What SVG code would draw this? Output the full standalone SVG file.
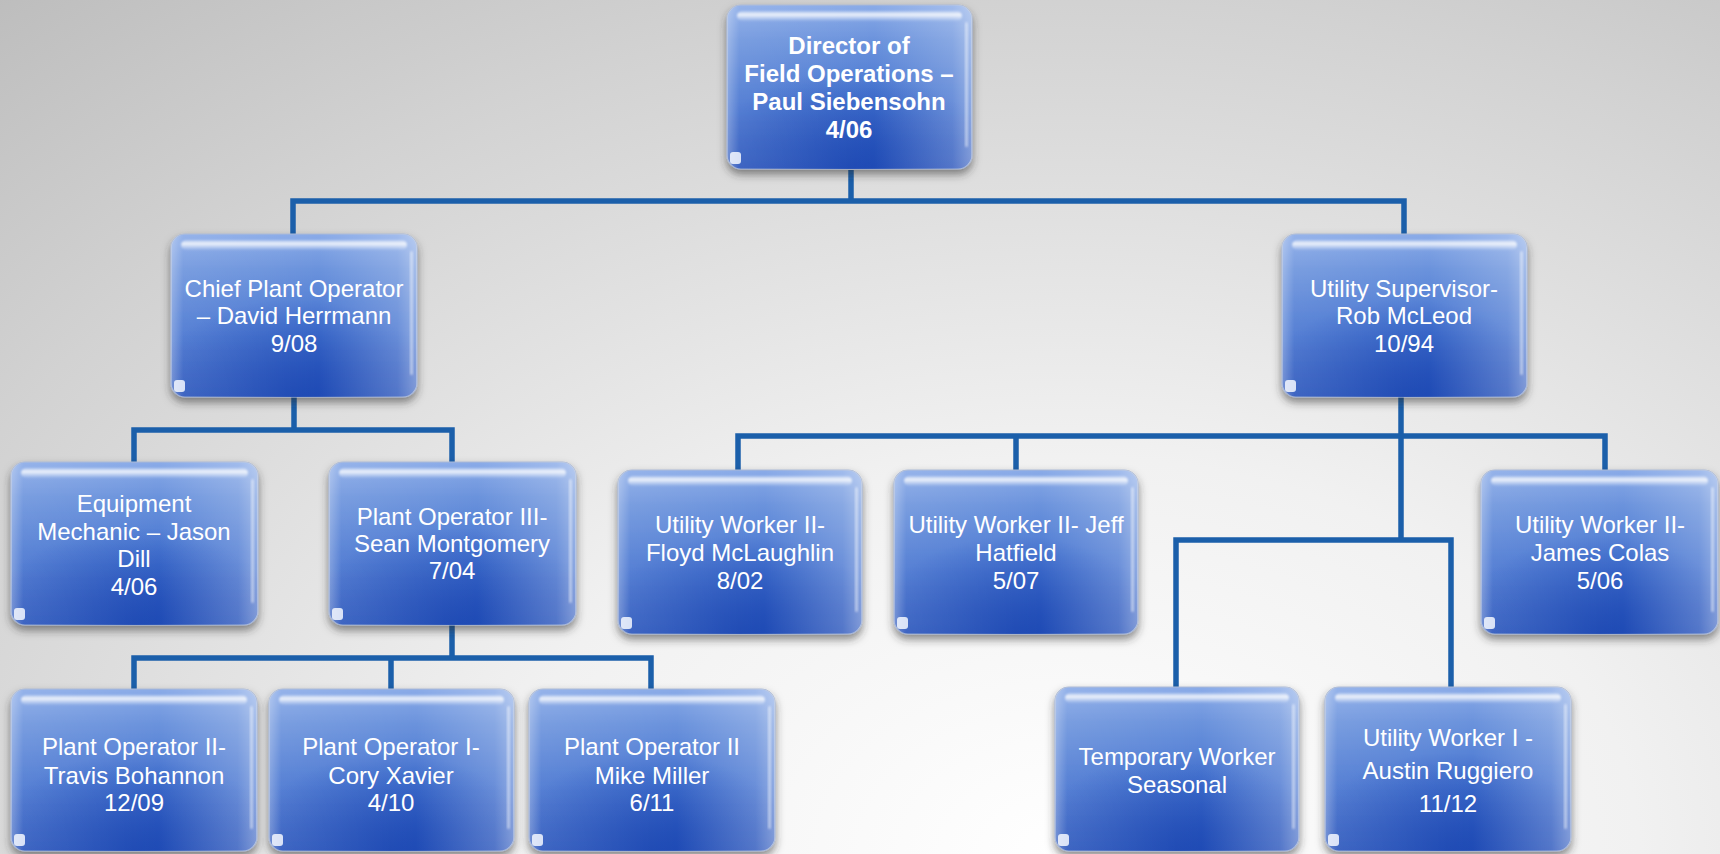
<svg xmlns="http://www.w3.org/2000/svg" width="1720" height="854" viewBox="0 0 1720 854">
<defs>
  <radialGradient id="bg" cx="0.62" cy="1.0" r="0.95" gradientTransform="translate(0.62 1) scale(1 1.4) translate(-0.62 -1)">
    <stop offset="0" stop-color="#ffffff"/>
    <stop offset="0.35" stop-color="#f1f1f1"/>
    <stop offset="0.75" stop-color="#d2d2d2"/>
    <stop offset="1" stop-color="#bdbdbd"/>
  </radialGradient>
  <linearGradient id="boxV" x1="0" y1="0" x2="0" y2="1">
    <stop offset="0" stop-color="#8aabe8"/>
    <stop offset="0.22" stop-color="#6a92dc"/>
    <stop offset="0.6" stop-color="#4573d0"/>
    <stop offset="1" stop-color="#2c58be"/>
  </linearGradient>
  <linearGradient id="boxH" x1="0" y1="0" x2="1" y2="0">
    <stop offset="0" stop-color="#ffffff" stop-opacity="0.35"/>
    <stop offset="0.05" stop-color="#ffffff" stop-opacity="0.1"/>
    <stop offset="0.6" stop-color="#ffffff" stop-opacity="0"/>
    <stop offset="0.92" stop-color="#ffffff" stop-opacity="0.2"/>
    <stop offset="1" stop-color="#ffffff" stop-opacity="0.4"/>
  </linearGradient>
  <radialGradient id="boxR" cx="0.5" cy="1" r="0.6">
    <stop offset="0" stop-color="#1a46b2" stop-opacity="0.85"/>
    <stop offset="1" stop-color="#1a46b2" stop-opacity="0"/>
  </radialGradient>
  <linearGradient id="gloss" x1="0" y1="0" x2="0" y2="1">
    <stop offset="0" stop-color="#ffffff" stop-opacity="0.25"/>
    <stop offset="0.35" stop-color="#ffffff" stop-opacity="0.85"/>
    <stop offset="1" stop-color="#ffffff" stop-opacity="0.05"/>
  </linearGradient>
  <filter id="shadow" x="-10%" y="-10%" width="120%" height="130%">
    <feDropShadow dx="0" dy="5" stdDeviation="4" flood-color="#303030" flood-opacity="0.55"/>
  </filter>
  <filter id="soft" x="-10%" y="-50%" width="120%" height="200%">
    <feGaussianBlur stdDeviation="1.2"/>
  </filter>
  <style>
    .frame { fill: url(#boxV); stroke: #aab8d4; stroke-width: 1.2; }
    .hl { fill: url(#boxH); }
    .dk { fill: url(#boxR); }
    .gl { fill: url(#gloss); filter: url(#soft); }
    .re { fill: #ffffff; opacity: 0.45; filter: url(#soft); }
    .cn { fill: #f4f8ff; opacity: 0.85; }
    .conn { fill: none; stroke: #1b5faa; stroke-width: 5.5; stroke-linejoin: miter; }
    .t { font-family: "Liberation Sans", Arial, sans-serif; font-size: 24px; fill: #ffffff; text-anchor: middle; }
    .b { font-weight: bold; }
  </style>
</defs>

<rect width="1720" height="854" fill="url(#bg)"/>

<g id="connectors">
  <path class="conn" d="M851,170 V201"/>
  <path class="conn" d="M293,234 V201 H1404 V234"/>
  <path class="conn" d="M294,397 V430"/>
  <path class="conn" d="M134,462 V430 H452 V462"/>
  <path class="conn" d="M452,625 V658"/>
  <path class="conn" d="M134,689 V658 H651 V689"/>
  <path class="conn" d="M391,658 V689"/>
  <path class="conn" d="M1401,397 V540"/>
  <path class="conn" d="M738,470 V436 H1605 V470"/>
  <path class="conn" d="M1016,436 V470"/>
  <path class="conn" d="M1176,687 V540 H1451 V687"/>
</g>

<g id="director">
  <g filter="url(#shadow)"><rect class="frame" x="727" y="5" width="245" height="164" rx="14"/></g>
  <rect class="dk" x="727" y="5" width="245" height="164" rx="14"/>
  <rect class="hl" x="727" y="5" width="245" height="164" rx="14"/>
  <rect class="gl" x="737" y="11" width="225" height="10" rx="5"/>
  <rect class="re" x="965" y="22" width="3" height="125" rx="1.5"/>
  <rect class="cn" x="730" y="152" width="11" height="12" rx="3"/>
  <text class="t b" x="849" y="54">Director of</text>
  <text class="t b" x="849" y="82">Field Operations –</text>
  <text class="t b" x="849" y="110">Paul Siebensohn</text>
  <text class="t b" x="849" y="138">4/06</text>
</g>

<g id="chief">
  <g filter="url(#shadow)"><rect class="frame" x="171" y="234" width="246" height="163" rx="14"/></g>
  <rect class="dk" x="171" y="234" width="246" height="163" rx="14"/>
  <rect class="hl" x="171" y="234" width="246" height="163" rx="14"/>
  <rect class="gl" x="181" y="240" width="226" height="10" rx="5"/>
  <rect class="re" x="410" y="251" width="3" height="124" rx="1.5"/>
  <rect class="cn" x="174" y="380" width="11" height="12" rx="3"/>
  <text class="t" x="294" y="297">Chief Plant Operator</text>
  <text class="t" x="294" y="324">– David Herrmann</text>
  <text class="t" x="294" y="352">9/08</text>
</g>

<g id="utility-supervisor">
  <g filter="url(#shadow)"><rect class="frame" x="1282" y="234" width="245" height="163" rx="14"/></g>
  <rect class="dk" x="1282" y="234" width="245" height="163" rx="14"/>
  <rect class="hl" x="1282" y="234" width="245" height="163" rx="14"/>
  <rect class="gl" x="1292" y="240" width="225" height="10" rx="5"/>
  <rect class="re" x="1520" y="251" width="3" height="124" rx="1.5"/>
  <rect class="cn" x="1285" y="380" width="11" height="12" rx="3"/>
  <text class="t" x="1404" y="297">Utility Supervisor-</text>
  <text class="t" x="1404" y="324">Rob McLeod</text>
  <text class="t" x="1404" y="352">10/94</text>
</g>

<g id="equipment-mechanic">
  <g filter="url(#shadow)"><rect class="frame" x="11" y="462" width="247" height="163" rx="14"/></g>
  <rect class="dk" x="11" y="462" width="247" height="163" rx="14"/>
  <rect class="hl" x="11" y="462" width="247" height="163" rx="14"/>
  <rect class="gl" x="21" y="468" width="227" height="10" rx="5"/>
  <rect class="re" x="251" y="479" width="3" height="124" rx="1.5"/>
  <rect class="cn" x="14" y="608" width="11" height="12" rx="3"/>
  <text class="t" x="134" y="512">Equipment</text>
  <text class="t" x="134" y="539.5">Mechanic – Jason</text>
  <text class="t" x="134" y="567">Dill</text>
  <text class="t" x="134" y="594.5">4/06</text>
</g>

<g id="plant-operator-3">
  <g filter="url(#shadow)"><rect class="frame" x="329" y="462" width="247" height="163" rx="14"/></g>
  <rect class="dk" x="329" y="462" width="247" height="163" rx="14"/>
  <rect class="hl" x="329" y="462" width="247" height="163" rx="14"/>
  <rect class="gl" x="339" y="468" width="227" height="10" rx="5"/>
  <rect class="re" x="569" y="479" width="3" height="124" rx="1.5"/>
  <rect class="cn" x="332" y="608" width="11" height="12" rx="3"/>
  <text class="t" x="452" y="525">Plant Operator III-</text>
  <text class="t" x="452" y="552">Sean Montgomery</text>
  <text class="t" x="452" y="579">7/04</text>
</g>

<g id="travis">
  <g filter="url(#shadow)"><rect class="frame" x="11" y="689" width="246" height="162" rx="14"/></g>
  <rect class="dk" x="11" y="689" width="246" height="162" rx="14"/>
  <rect class="hl" x="11" y="689" width="246" height="162" rx="14"/>
  <rect class="gl" x="21" y="695" width="226" height="10" rx="5"/>
  <rect class="re" x="250" y="706" width="3" height="123" rx="1.5"/>
  <rect class="cn" x="14" y="834" width="11" height="12" rx="3"/>
  <text class="t" x="134" y="755">Plant Operator II-</text>
  <text class="t" x="134" y="784">Travis Bohannon</text>
  <text class="t" x="134" y="811">12/09</text>
</g>

<g id="cory">
  <g filter="url(#shadow)"><rect class="frame" x="269" y="689" width="245" height="162" rx="14"/></g>
  <rect class="dk" x="269" y="689" width="245" height="162" rx="14"/>
  <rect class="hl" x="269" y="689" width="245" height="162" rx="14"/>
  <rect class="gl" x="279" y="695" width="225" height="10" rx="5"/>
  <rect class="re" x="507" y="706" width="3" height="123" rx="1.5"/>
  <rect class="cn" x="272" y="834" width="11" height="12" rx="3"/>
  <text class="t" x="391" y="755">Plant Operator I-</text>
  <text class="t" x="391" y="784">Cory Xavier</text>
  <text class="t" x="391" y="811">4/10</text>
</g>

<g id="mike">
  <g filter="url(#shadow)"><rect class="frame" x="529" y="689" width="246" height="162" rx="14"/></g>
  <rect class="dk" x="529" y="689" width="246" height="162" rx="14"/>
  <rect class="hl" x="529" y="689" width="246" height="162" rx="14"/>
  <rect class="gl" x="539" y="695" width="226" height="10" rx="5"/>
  <rect class="re" x="768" y="706" width="3" height="123" rx="1.5"/>
  <rect class="cn" x="532" y="834" width="11" height="12" rx="3"/>
  <text class="t" x="652" y="755">Plant Operator II</text>
  <text class="t" x="652" y="784">Mike Miller</text>
  <text class="t" x="652" y="811">6/11</text>
</g>

<g id="floyd">
  <g filter="url(#shadow)"><rect class="frame" x="618" y="470" width="244" height="164" rx="14"/></g>
  <rect class="dk" x="618" y="470" width="244" height="164" rx="14"/>
  <rect class="hl" x="618" y="470" width="244" height="164" rx="14"/>
  <rect class="gl" x="628" y="476" width="224" height="10" rx="5"/>
  <rect class="re" x="855" y="487" width="3" height="125" rx="1.5"/>
  <rect class="cn" x="621" y="617" width="11" height="12" rx="3"/>
  <text class="t" x="740" y="533">Utility Worker II-</text>
  <text class="t" x="740" y="561">Floyd McLaughlin</text>
  <text class="t" x="740" y="589">8/02</text>
</g>

<g id="jeff">
  <g filter="url(#shadow)"><rect class="frame" x="894" y="470" width="244" height="164" rx="14"/></g>
  <rect class="dk" x="894" y="470" width="244" height="164" rx="14"/>
  <rect class="hl" x="894" y="470" width="244" height="164" rx="14"/>
  <rect class="gl" x="904" y="476" width="224" height="10" rx="5"/>
  <rect class="re" x="1131" y="487" width="3" height="125" rx="1.5"/>
  <rect class="cn" x="897" y="617" width="11" height="12" rx="3"/>
  <text class="t" x="1016" y="533">Utility Worker II- Jeff</text>
  <text class="t" x="1016" y="561">Hatfield</text>
  <text class="t" x="1016" y="589">5/07</text>
</g>

<g id="james">
  <g filter="url(#shadow)"><rect class="frame" x="1481" y="470" width="237" height="164" rx="14"/></g>
  <rect class="dk" x="1481" y="470" width="237" height="164" rx="14"/>
  <rect class="hl" x="1481" y="470" width="237" height="164" rx="14"/>
  <rect class="gl" x="1491" y="476" width="217" height="10" rx="5"/>
  <rect class="re" x="1711" y="487" width="3" height="125" rx="1.5"/>
  <rect class="cn" x="1484" y="617" width="11" height="12" rx="3"/>
  <text class="t" x="1600" y="533">Utility Worker II-</text>
  <text class="t" x="1600" y="561">James Colas</text>
  <text class="t" x="1600" y="589">5/06</text>
</g>

<g id="temporary">
  <g filter="url(#shadow)"><rect class="frame" x="1055" y="687" width="244" height="164" rx="14"/></g>
  <rect class="dk" x="1055" y="687" width="244" height="164" rx="14"/>
  <rect class="hl" x="1055" y="687" width="244" height="164" rx="14"/>
  <rect class="gl" x="1065" y="693" width="224" height="10" rx="5"/>
  <rect class="re" x="1292" y="704" width="3" height="125" rx="1.5"/>
  <rect class="cn" x="1058" y="834" width="11" height="12" rx="3"/>
  <text class="t" x="1177" y="765">Temporary Worker</text>
  <text class="t" x="1177" y="793">Seasonal</text>
</g>

<g id="austin">
  <g filter="url(#shadow)"><rect class="frame" x="1325" y="687" width="246" height="164" rx="14"/></g>
  <rect class="dk" x="1325" y="687" width="246" height="164" rx="14"/>
  <rect class="hl" x="1325" y="687" width="246" height="164" rx="14"/>
  <rect class="gl" x="1335" y="693" width="226" height="10" rx="5"/>
  <rect class="re" x="1564" y="704" width="3" height="125" rx="1.5"/>
  <rect class="cn" x="1328" y="834" width="11" height="12" rx="3"/>
  <text class="t" x="1448" y="746">Utility Worker I -</text>
  <text class="t" x="1448" y="779">Austin Ruggiero</text>
  <text class="t" x="1448" y="812">11/12</text>
</g>
</svg>
